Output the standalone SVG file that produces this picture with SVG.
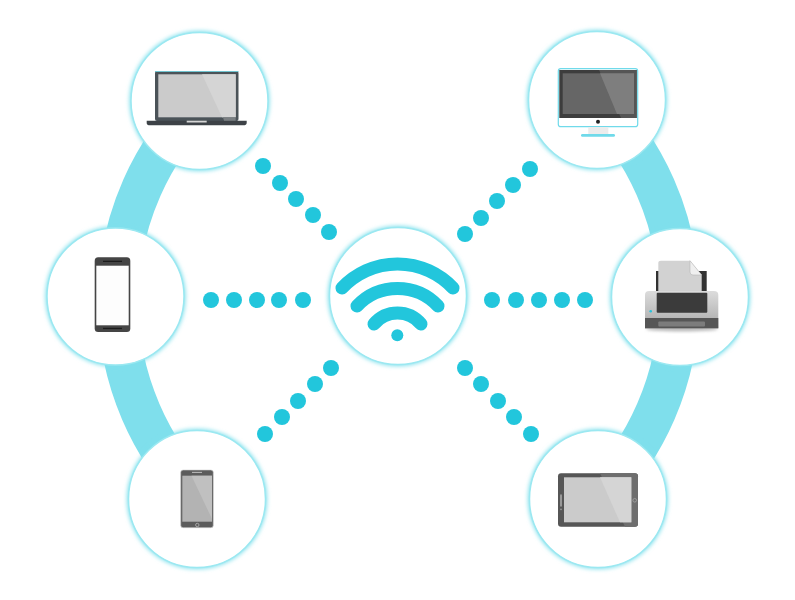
<svg xmlns="http://www.w3.org/2000/svg" width="795" height="600" viewBox="0 0 795 600">
<style>
.band{fill:none;stroke:#7fdfec;stroke-width:40.500}
.dot{fill:#22c6dc}
.glow{fill:#7fe0ec;filter:url(#soft)}
.disc{fill:#fff;stroke:#9be8f1;stroke-width:1.500}
.wave{fill:none;stroke:#22c6dc;stroke-width:13;stroke-linecap:round}
.device{filter:url(#crisp)}
</style>
<defs>
<filter id="soft" x="-10%" y="-10%" width="120%" height="120%"><feGaussianBlur stdDeviation="2"/></filter>
<filter id="crisp" x="-5%" y="-5%" width="110%" height="110%"><feGaussianBlur stdDeviation="0.4"/></filter>
<filter id="tiny" x="-10%" y="-50%" width="120%" height="200%"><feGaussianBlur stdDeviation="1.500"/></filter>
<linearGradient id="body" x1="0" y1="0" x2="0" y2="1"><stop offset="0" stop-color="#dcdcdc"/><stop offset="0.7" stop-color="#b8b8b8"/><stop offset="1" stop-color="#9a9a9a"/></linearGradient>
</defs>
<g id="connectors">
<path class="band" d="M202,101 A280,280 0 0 0 200,499"/>
<path class="band" d="M595,100 A280,280 0 0 1 596,499"/>
<g>
<circle class="dot" cx="263" cy="166" r="8"/><circle class="dot" cx="280" cy="183" r="8"/><circle class="dot" cx="296" cy="199" r="8"/><circle class="dot" cx="313" cy="215" r="8"/><circle class="dot" cx="329" cy="232" r="8"/>
<circle class="dot" cx="465" cy="234" r="8"/><circle class="dot" cx="481" cy="218" r="8"/><circle class="dot" cx="497" cy="201" r="8"/><circle class="dot" cx="513" cy="185" r="8"/><circle class="dot" cx="530" cy="169" r="8"/>
<circle class="dot" cx="211" cy="300" r="8"/><circle class="dot" cx="234" cy="300" r="8"/><circle class="dot" cx="257" cy="300" r="8"/><circle class="dot" cx="279" cy="300" r="8"/><circle class="dot" cx="303" cy="300" r="8"/>
<circle class="dot" cx="492" cy="300" r="8"/><circle class="dot" cx="516" cy="300" r="8"/><circle class="dot" cx="539" cy="300" r="8"/><circle class="dot" cx="562" cy="300" r="8"/><circle class="dot" cx="585" cy="300" r="8"/>
<circle class="dot" cx="331" cy="368" r="8"/><circle class="dot" cx="315" cy="384" r="8"/><circle class="dot" cx="298" cy="401" r="8"/><circle class="dot" cx="282" cy="417" r="8"/><circle class="dot" cx="265" cy="434" r="8"/>
<circle class="dot" cx="465" cy="368" r="8"/><circle class="dot" cx="481" cy="384" r="8"/><circle class="dot" cx="498" cy="401" r="8"/><circle class="dot" cx="514" cy="417" r="8"/><circle class="dot" cx="531" cy="434" r="8"/>
</g>
</g>
<g id="wifi">
<circle class="glow" cx="398" cy="296" r="70"/><circle class="disc" cx="398" cy="296" r="68.500"/>
<path class="wave" d="M342,288 A76,76 0 0 1 453,288"/>
<path class="wave" d="M357,306 A55.700,55.700 0 0 1 438,306"/>
<path class="wave" d="M374,324 A30.600,30.600 0 0 1 421,324"/>
<circle class="dot" cx="397.300" cy="335.300" r="6"/>
</g>
<g id="laptop">
<circle class="glow" cx="199.500" cy="101" r="70"/><circle class="disc" cx="199.500" cy="101" r="68.500"/>
<g class="device">
<rect x="155" y="71" width="83.500" height="50" rx="2" fill="#4b5359"/>
<rect x="155" y="71" width="83.500" height="1" fill="#6fc4d0"/>
<rect x="158.300" y="74.300" width="77.400" height="43" fill="#cbcbcb"/>
<path d="M202,74.300H235.700V117.300H222Z" fill="#d5d5d5"/>
<path d="M146.700,120.700H246.700V123Q246.700,125.300 243,125.300H150Q146.700,125.300 146.700,123Z" fill="#3c4347"/>
<rect x="186.700" y="120.700" width="20" height="1.800" fill="#d5d5d5"/>
<path d="M223,117.300H235.700V120.700H224Z" fill="#7a7f82"/>
</g>
</g>
<g id="desktop">
<circle class="glow" cx="597" cy="100" r="70"/><circle class="disc" cx="597" cy="100" r="68.500"/>
<g class="device">
<rect x="558.300" y="68.700" width="79.400" height="58" rx="2.500" fill="#fff" stroke="#6fdaea" stroke-width="1.200"/>
<rect x="559.300" y="70" width="77.400" height="48" fill="#3c3c3c"/>
<rect x="562.700" y="73.300" width="71.300" height="40.700" fill="#666"/>
<path d="M599,70H636.700V118H621Z" fill="#555"/>
<path d="M600,73.300H634V114H617Z" fill="#7e7e7e"/>
<circle cx="598" cy="121.700" r="2" fill="#222"/>
<rect x="588.300" y="127" width="20" height="7.300" fill="#ececec"/>
<rect x="581" y="134" width="34" height="2.800" rx="1.400" fill="#6fdaea"/>
</g>
</g>
<g id="mobile">
<circle class="glow" cx="115.500" cy="296.500" r="70"/><circle class="disc" cx="115.500" cy="296.500" r="68.500"/>
<g class="device">
<rect x="94.700" y="257.300" width="35.600" height="74.700" rx="3.500" fill="#444"/>
<rect x="96.300" y="265.700" width="32.400" height="59.600" fill="#fdfdfd"/>
<rect x="103" y="260.700" width="19" height="1.300" fill="#1c1c1c"/>
<rect x="103" y="327.800" width="19" height="1.300" fill="#1c1c1c"/>
</g>
</g>
<g id="printer">
<circle class="glow" cx="680" cy="297" r="70"/><circle class="disc" cx="680" cy="297" r="68.500"/>
<ellipse cx="682" cy="329" rx="36" ry="2.500" fill="#bbb" filter="url(#tiny)"/>
<g class="device">
<rect x="656" y="271" width="50.700" height="22" fill="#333"/>
<path d="M658.300,263Q658.300,260.700 661,260.700H690L701.700,275V292H658.300Z" fill="#d2d2d2"/>
<path d="M690,260.700L701.700,275H693Q690,275 690,272Z" fill="#efefef" stroke="#b5b5b5" stroke-width="0.600"/>
<path d="M645,295Q645,291 649,291H714Q718.300,291 718.300,295V328.300H645Z" fill="url(#body)"/>
<rect x="656.700" y="292.700" width="50.600" height="20" rx="1" fill="#3a3a3a"/>
<rect x="645" y="318" width="73.300" height="10.300" fill="#565656"/>
<rect x="658.300" y="321.500" width="46.700" height="5" rx="1" fill="#7c7c7c"/>
<circle cx="650.700" cy="311.300" r="1.300" fill="#27c3dc"/>
</g>
</g>
<g id="phone">
<circle class="glow" cx="197" cy="499" r="70"/><circle class="disc" cx="197" cy="499" r="68.500"/>
<g class="device">
<rect x="180.700" y="470" width="32.600" height="57.700" rx="2.500" fill="#5c5c5c" stroke="#d0d0d0" stroke-width="0.600"/>
<rect x="182.300" y="475.700" width="29.700" height="46" fill="#b3b3b3"/>
<path d="M191.500,475.700H212V519Z" fill="#c0c0c0"/>
<rect x="192" y="471.900" width="10" height="0.900" fill="#c8c8c8"/>
<circle cx="197.300" cy="525" r="1.700" fill="none" stroke="#c0c0c0" stroke-width="0.700"/>
</g>
</g>
<g id="tablet">
<circle class="glow" cx="598" cy="499" r="70"/><circle class="disc" cx="598" cy="499" r="68.500"/>
<g class="device">
<rect x="558" y="473.300" width="80" height="53.400" rx="3" fill="#565656"/>
<path d="M600,473.300H635Q638,473.300 638,476V524Q638,526.700 635,526.700H625Z" fill="#6e6e6e"/>
<rect x="564" y="477.300" width="67.300" height="45" fill="#cbcbcb"/>
<path d="M600,477.300H631.300V522.300H620Z" fill="#d5d5d5"/>
<rect x="560" y="494.300" width="2" height="12.400" rx="1" fill="#999"/>
<circle cx="561" cy="509.300" r="0.900" fill="#999"/>
<circle cx="634.700" cy="500.300" r="1.800" fill="none" stroke="#aaa" stroke-width="0.700"/>
</g>
</g>
</svg>
